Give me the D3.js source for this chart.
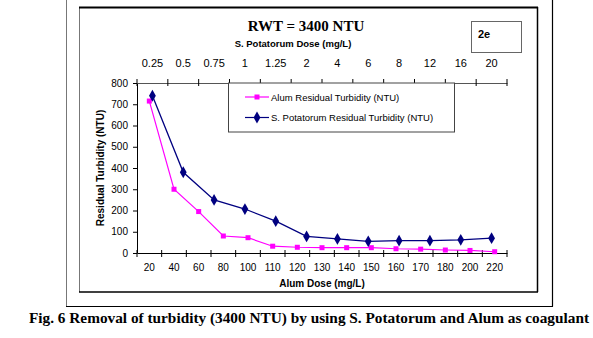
<!DOCTYPE html>
<html>
<head>
<meta charset="utf-8">
<script src="https://cdn.jsdelivr.net/npm/d3@7"></script>
<style>
  body { margin: 0; background: #fff; }
  svg { display: block; font-family: Arial, "Liberation Sans", sans-serif; }
</style>
</head>
<body>
<div id="chart"></div>
<script>
// alum dose categories (bottom axis) and residual turbidity
var alumDose = ['20', '40', '60', '80', '100', '110', '120', '130', '140', '150', '160', '170', '180', '200', '220'];
var alumTurbidity = [715, 300, 195, 80, 72, 32, 27, 25, 25, 25, 20, 18, 14, 12, 6];

// S. Potatorum dose categories (top axis) and residual turbidity
var spDose = ['0.25', '0.5', '0.75', '1', '1.25', '2', '4', '6', '8', '12', '16', '20'];
var spTurbidity = [740, 380, 250, 207, 150, 78, 66, 55, 58, 58, 62, 70];

var yTicks = [0, 100, 200, 300, 400, 500, 600, 700, 800];

var width = 593, height = 338;
// plot box (window.top is reserved, so no plain "top")
var pLeft = 137, pRight = 507, pTop = 83, pBottom = 253;

var svg = d3.select('#chart').append('svg')
    .attr('width', width)
    .attr('height', height);

// frames
svg.append('line').attr('x1', 66.5).attr('x2', 66.5).attr('y1', 0).attr('y2', 306)
    .attr('stroke', '#777').attr('stroke-width', 1);
svg.append('line').attr('x1', 552.5).attr('x2', 552.5).attr('y1', 0).attr('y2', 306.5)
    .attr('stroke', '#000').attr('stroke-width', 1.2);
svg.append('line').attr('x1', 66).attr('x2', 553).attr('y1', 306.5).attr('y2', 306.5)
    .attr('stroke', '#000').attr('stroke-width', 1.2);

svg.append('line').attr('x1', 79.5).attr('x2', 79.5).attr('y1', 7).attr('y2', 292)
    .attr('stroke', '#777').attr('stroke-width', 1);
svg.append('line').attr('x1', 79).attr('x2', 538).attr('y1', 7.5).attr('y2', 7.5)
    .attr('stroke', '#000').attr('stroke-width', 2);
svg.append('line').attr('x1', 537.5).attr('x2', 537.5).attr('y1', 7).attr('y2', 292)
    .attr('stroke', '#000').attr('stroke-width', 1.5);
svg.append('line').attr('x1', 79).attr('x2', 538).attr('y1', 292).attr('y2', 292)
    .attr('stroke', '#000').attr('stroke-width', 1.5);

// "2e" box
svg.append('rect').attr('x', 471.5).attr('y', 21.5).attr('width', 50).attr('height', 31)
    .attr('fill', 'none').attr('stroke', '#666').attr('stroke-width', 1);
svg.append('text').attr('x', 478).attr('y', 38).attr('font-size', 11).attr('font-weight', 'bold')
    .text('2e');

// title
svg.append('text').attr('x', 306).attr('y', 31).attr('text-anchor', 'middle')
    .attr('font-family', '"Liberation Serif", "Times New Roman", serif')
    .attr('font-size', 15).attr('font-weight', 'bold')
    .text('RWT = 3400 NTU');

// scales
var x = d3.scaleBand().domain(alumDose).range([pLeft, pRight]);
var x2 = d3.scaleBand().domain(spDose).range([pLeft, pRight]);
var y = d3.scaleLinear().domain([0, 800]).range([pBottom, pTop]);

// y axis
var yAxis = svg.append('g')
    .attr('transform', 'translate(' + pLeft + ',0)')
    .call(d3.axisLeft(y).tickValues(yTicks).tickSize(4).tickSizeOuter(0).tickPadding(5));
yAxis.select('.domain').attr('stroke', '#000');
yAxis.selectAll('text').attr('font-size', 10).attr('fill', '#000');

// bottom axis: labels in band centres, ticks on band edges
var xAxis = svg.append('g')
    .attr('transform', 'translate(0,' + pBottom + ')')
    .call(d3.axisBottom(x).tickSize(0).tickSizeOuter(0).tickPadding(11));
xAxis.select('.domain').attr('stroke', '#000');
xAxis.selectAll('text').attr('font-size', 10).attr('fill', '#000');
xAxis.selectAll('.edge')
    .data(alumDose.map(function(d) { return x(d); }).concat([pRight]))
    .enter().append('line')
    .attr('class', 'edge')
    .attr('x1', function(d) { return d; }).attr('x2', function(d) { return d; })
    .attr('y1', -3).attr('y2', 4)
    .attr('stroke', '#000');

// top axis for S. Potatorum dose
var xAxis2 = svg.append('g')
    .attr('transform', 'translate(0,' + pTop + ')')
    .call(d3.axisTop(x2).tickSize(0).tickSizeOuter(0).tickPadding(16));
xAxis2.select('.domain').attr('stroke', '#555');
xAxis2.selectAll('text').attr('font-size', 11).attr('fill', '#000');
xAxis2.selectAll('.edge')
    .data(spDose.map(function(d) { return x2(d); }).concat([pRight]))
    .enter().append('line')
    .attr('class', 'edge')
    .attr('x1', function(d) { return d; }).attr('x2', function(d) { return d; })
    .attr('y1', -4).attr('y2', 3)
    .attr('stroke', '#000');

// axis titles
svg.append('text').attr('x', 293).attr('y', 47).attr('text-anchor', 'middle')
    .attr('font-size', 9.5).attr('font-weight', 'bold')
    .text('S. Potatorum Dose (mg/L)');
svg.append('text').attr('x', 322).attr('y', 287).attr('text-anchor', 'middle')
    .attr('font-size', 10).attr('font-weight', 'bold')
    .text('Alum Dose (mg/L)');
svg.append('text')
    .attr('transform', 'translate(104,168) rotate(-90)')
    .attr('text-anchor', 'middle')
    .attr('font-size', 10).attr('font-weight', 'bold')
    .text('Residual Turbidity (NTU)');

// legend
var lg = svg.append('g');
lg.append('rect').attr('x', 228.5).attr('y', pTop).attr('width', 226).attr('height', 49)
    .attr('fill', '#fff').attr('stroke', '#444').attr('stroke-width', 1);
lg.append('line').attr('x1', 245).attr('x2', 269).attr('y1', 97).attr('y2', 97)
    .attr('stroke', '#ff00ff').attr('stroke-width', 1.2);
lg.append('rect').attr('x', 254.5).attr('y', 94.5).attr('width', 5).attr('height', 5).attr('fill', '#ff00ff');
lg.append('text').attr('x', 271).attr('y', 100.5).attr('font-size', 9.5).text('Alum Residual Turbidity (NTU)');
lg.append('line').attr('x1', 245).attr('x2', 269).attr('y1', 117.5).attr('y2', 117.5)
    .attr('stroke', '#000080').attr('stroke-width', 1.2);
lg.append('path').attr('d', d3.symbol(d3.symbolDiamond, 40)).attr('transform', 'translate(257,117.5)')
    .attr('fill', '#000080');
lg.append('text').attr('x', 271).attr('y', 121).attr('font-size', 9.5)
    .text('S. Potatorum  Residual Turbidity (NTU)');

// alum series
var alumLine = d3.line()
    .x(function(d, i) { return x(alumDose[i]) + x.bandwidth() / 2; })
    .y(function(d) { return y(d); });
svg.append('path').datum(alumTurbidity)
    .attr('d', alumLine)
    .attr('fill', 'none').attr('stroke', '#ff00ff').attr('stroke-width', 1.2);
svg.selectAll('.alum').data(alumTurbidity).enter().append('rect')
    .attr('class', 'alum')
    .attr('x', function(d, i) { return x(alumDose[i]) + x.bandwidth() / 2 - 2.5; })
    .attr('y', function(d) { return y(d) - 2.5; })
    .attr('width', 5).attr('height', 5)
    .attr('fill', '#ff00ff');

// S. Potatorum series
var spLine = d3.line()
    .x(function(d, i) { return x2(spDose[i]) + x2.bandwidth() / 2; })
    .y(function(d) { return y(d); });
svg.append('path').datum(spTurbidity)
    .attr('d', spLine)
    .attr('fill', 'none').attr('stroke', '#000080').attr('stroke-width', 1.3);
svg.selectAll('.sp').data(spTurbidity).enter().append('path')
    .attr('class', 'sp')
    .attr('d', d3.symbol(d3.symbolDiamond, 40))
    .attr('transform', function(d, i) {
        return 'translate(' + (x2(spDose[i]) + x2.bandwidth() / 2) + ',' + y(d) + ')';
    })
    .attr('fill', '#000080');

// caption
svg.append('text').attr('x', 309).attr('y', 323).attr('text-anchor', 'middle')
    .attr('font-family', '"Liberation Serif", "Times New Roman", serif')
    .attr('font-size', 15.3).attr('font-weight', 'bold')
    .text('Fig. 6 Removal of turbidity (3400 NTU) by using S. Potatorum and Alum as coagulant');
</script>
</body>
</html>
